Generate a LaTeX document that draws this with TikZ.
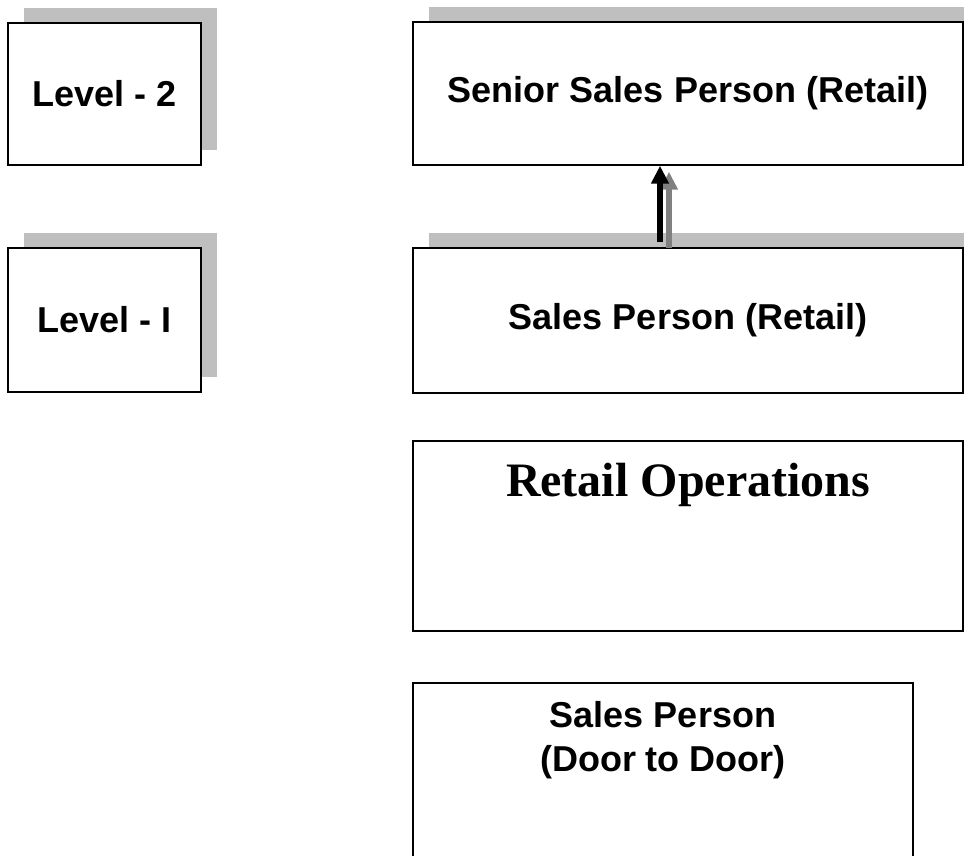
\documentclass[tikz,border=0pt]{standalone}
\usepackage{fontspec}
\setmainfont{Liberation Sans}
\newfontfamily\timesbold{Liberation Serif}
\usetikzlibrary{positioning, arrows.meta, shadows}
\tikzset{
  box1/.style = {
    shape = rectangle,
    draw = black,
    fill = white,
    line width = 1.1pt,
    align = center,
    inner sep = 0pt,
    font = \fontsize{27}{33}\selectfont\bfseries,
  }
}
\tikzset{
  shadow1/.style = {
    drop shadow = {shadow xshift = 12pt, shadow yshift = 11.5pt, fill = black!25, opacity = 1},
  }
}
\tikzset{
  arrow1/.style = {
    line width = 4.5pt, -{Triangle[length = 13.5pt, width = 12.75pt]},
  }
}

\begin{document}
\begin{tikzpicture}[x = 0.75pt, y = -0.75pt]
        \useasboundingbox (0,0) rectangle (964,856);
        \node[box1, shadow1, minimum width = 144.75pt, minimum height = 106.5pt] (lvl2) at (104.5,94) {Level - 2};
        \node[box1, shadow1, minimum width = 144.75pt, minimum height = 108pt] (lvl1) at (104.5,320) {Level - I};
        \node[box1, shadow1, minimum width = 412.5pt, minimum height = 107.25pt] (senior) at (688,93.5) {Senior Sales Person (Retail)};
        \node[box1, shadow1, minimum width = 412.5pt, minimum height = 108.75pt] (sales) at (688,320.5) {Sales Person (Retail)};
        \node[box1, minimum width = 412.5pt, minimum height = 142.5pt,
          label = {[anchor = north, yshift = -17pt, inner sep = 0pt, font = \fontsize{36}{40}\timesbold\bfseries]north:Retail Operations}] (retail) at (688,536) {};
        \node[box1, minimum width = 375pt, minimum height = 142.5pt,
          label = {[anchor = north, yshift = -14.25pt, inner sep = 0pt, align = center, font = \fontsize{27}{33}\selectfont\bfseries]north:Sales Person\\(Door to Door)}] (door) at (663,778) {};
        \draw[arrow1, gray]([xshift = -14.25pt, yshift = -0.75pt]sales.north) -- ([xshift = -14.25pt, yshift = -4.5pt]senior.south);
        \draw[arrow1, black]([xshift = -21pt, yshift = 3.75pt]sales.north) -- ([xshift = -21pt]senior.south);
    \end{tikzpicture}
\end{document}
